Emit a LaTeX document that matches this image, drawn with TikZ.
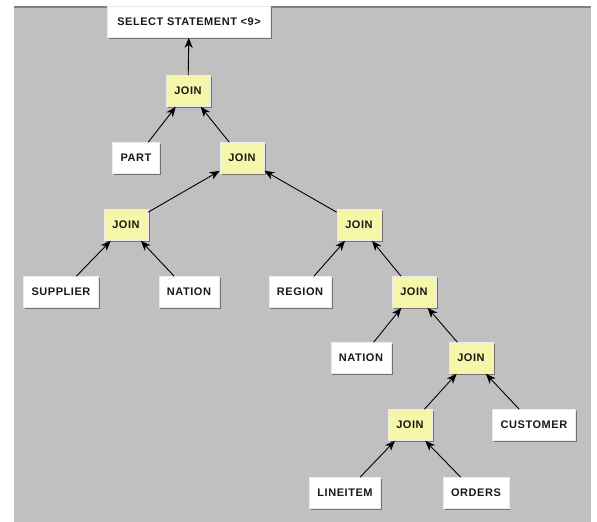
\documentclass[tikz,border=0pt]{standalone}
\usepackage{fontspec}
\setmainfont{Liberation Sans}[LetterSpace=5]
\usetikzlibrary{arrows.meta,shadows}
\definecolor{canvas}{RGB}{192,192,192}
\definecolor{joinfill}{RGB}{246,246,170}
\definecolor{rim}{RGB}{128,128,128}

\tikzset{
  plan/.style={draw=white!92!black, line width=0.6pt, minimum height=31pt, inner xsep=8pt,
    font=\bfseries\fontsize{11}{12}\selectfont, text=black!90,
    drop shadow={shadow xshift=1.5pt, shadow yshift=-1.5pt, fill=black!55, opacity=1}},
  tbl/.style={plan, fill=white},
  joinop/.style={plan, fill=joinfill, minimum width=44pt, inner xsep=4pt},
  link/.style={line width=0.9pt, -{Stealth[length=10pt,width=8pt,inset=3pt]}}
}

\begin{document}
\begin{tikzpicture}[x=1pt, y=-1pt]
\useasboundingbox (0,0) rectangle (597,522);
\fill[canvas] (14,7) rectangle (591,522);
\draw[rim, line width=1.2pt] (14,7) -- (591,7);

\node[tbl, minimum width=163pt] (sel) at (189,22) {SELECT STATEMENT <9>};
\node[joinop] (j1) at (188,91) {JOIN};
\node[tbl] (part) at (136,158) {PART};
\node[joinop] (j2) at (242,158) {JOIN};
\node[joinop] (j3) at (126,225) {JOIN};
\node[joinop] (j4) at (359,225) {JOIN};
\node[tbl] (supp) at (61,292) {SUPPLIER};
\node[tbl] (nat1) at (189,292) {NATION};
\node[tbl] (reg) at (300,292) {REGION};
\node[joinop] (j5) at (414,292) {JOIN};
\node[tbl] (nat2) at (361,358) {NATION};
\node[joinop] (j6) at (471,358) {JOIN};
\node[joinop] (j7) at (410,425) {JOIN};
\node[tbl] (cust) at (534,425) {CUSTOMER};
\node[tbl] (line) at (345,493) {LINEITEM};
\node[tbl] (ord) at (476,493) {ORDERS};

\draw[link] (j1) -- (sel);
\draw[link] (part) -- (j1);
\draw[link] (j2) -- (j1);
\draw[link] (j3) -- (j2);
\draw[link] (j4) -- (j2);
\draw[link] (supp) -- (j3);
\draw[link] (nat1) -- (j3);
\draw[link] (reg) -- (j4);
\draw[link] (j5) -- (j4);
\draw[link] (nat2) -- (j5);
\draw[link] (j6) -- (j5);
\draw[link] (j7) -- (j6);
\draw[link] (cust) -- (j6);
\draw[link] (line) -- (j7);
\draw[link] (ord) -- (j7);
\end{tikzpicture}
\end{document}
